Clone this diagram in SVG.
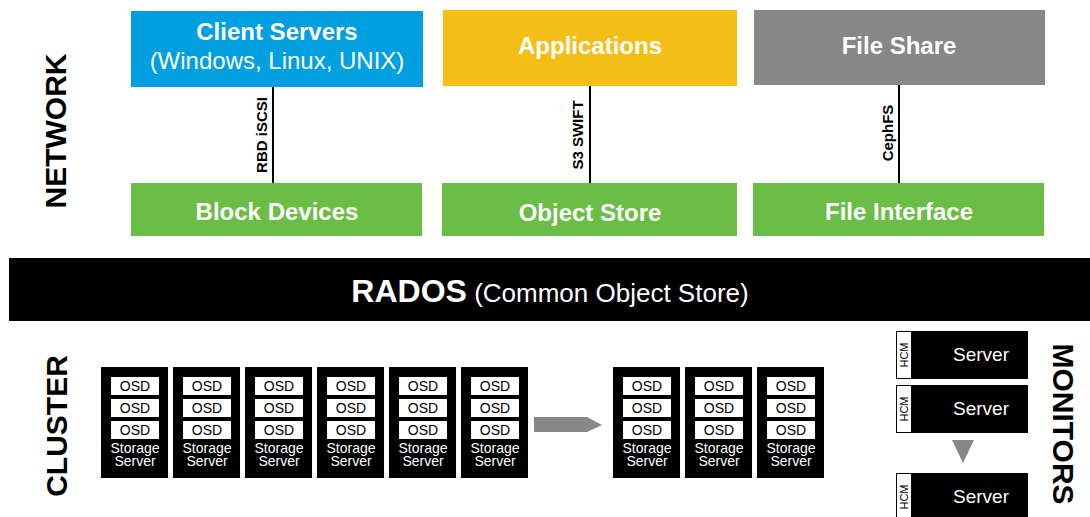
<svg xmlns="http://www.w3.org/2000/svg" width="1090" height="517" viewBox="0 0 1090 517">
<defs>
<style>
text{font-family:"Liberation Sans",Arial,sans-serif}
.top{font-size:24px;fill:#fff;text-anchor:middle}
.b{font-weight:bold}
.side{font-size:30px;font-weight:bold;fill:#000;text-anchor:middle}
.lbl{font-size:15px;font-weight:bold;fill:#000;text-anchor:middle}
.conn{stroke:#000;stroke-width:2;fill:none}
.srv{fill:#000}
.osd{fill:#fff}
.osdt{font-size:14px;fill:#000;text-anchor:middle}
.sst{font-size:14px;fill:#fff;text-anchor:middle}
.mon{fill:#000;stroke:#000;stroke-width:1}
.hcm{fill:#fff;stroke:#000;stroke-width:1}
.hcmt{font-size:11px;fill:#000;text-anchor:middle}
.mont{font-size:19px;fill:#fff;text-anchor:middle}
</style>
<g id="ss">
<rect class="srv" x="0" y="0" width="67" height="111"/>
<rect class="osd" x="10" y="10" width="48" height="18"/>
<text class="osdt" x="34" y="24">OSD</text>
<rect class="osd" x="10" y="32" width="48" height="18"/>
<text class="osdt" x="34" y="46">OSD</text>
<rect class="osd" x="10" y="54" width="48" height="18"/>
<text class="osdt" x="34" y="68">OSD</text>
<text class="sst" x="34" y="86">Storage</text>
<text class="sst" x="34" y="99">Server</text>
</g>
<g id="ms">
<rect class="mon" x="0.5" y="0.5" width="131" height="47"/>
<rect class="hcm" x="0.5" y="0.5" width="15" height="47"/>
<text class="hcmt" transform="translate(12,24) rotate(-90)">HCM</text>
<text class="mont" x="85" y="30">Server</text>
</g>
</defs>

<text id="network" class="side" transform="translate(66,131) rotate(-90)">NETWORK</text>
<text id="cluster" class="side" transform="translate(67,426) rotate(-90)">CLUSTER</text>
<text id="monitors" class="side" transform="translate(1053,424) rotate(90)">MONITORS</text>

<g id="connectors">
<line class="conn" x1="273" y1="87" x2="273" y2="183"/>
<line class="conn" x1="590" y1="86" x2="590" y2="183"/>
<line class="conn" x1="899" y1="85" x2="899" y2="183"/>
<text class="lbl" transform="translate(267,135) rotate(-90)">RBD iSCSI</text>
<text class="lbl" transform="translate(583,135) rotate(-90)">S3 SWIFT</text>
<text class="lbl" transform="translate(893,133) rotate(-90)">CephFS</text>
</g>

<g id="client-servers">
<rect x="131" y="11" width="292" height="76" fill="#009FDF"/>
<text class="top b" x="277" y="40">Client Servers</text>
<text class="top" x="277" y="69">(Windows, Linux, UNIX)</text>
</g>
<g id="applications">
<rect x="443" y="10" width="294" height="76" fill="#F5BE17"/>
<text class="top b" x="590" y="54">Applications</text>
</g>
<g id="file-share">
<rect x="754" y="10" width="291" height="75" fill="#878787"/>
<text class="top b" x="899" y="54">File Share</text>
</g>
<g id="block-devices">
<rect x="131" y="183" width="291" height="53" fill="#6ABD45"/>
<text class="top b" x="277" y="220">Block Devices</text>
</g>
<g id="object-store">
<rect x="442" y="183" width="295" height="53" fill="#6ABD45"/>
<text class="top b" x="590" y="221">Object Store</text>
</g>
<g id="file-interface">
<rect x="753" y="183" width="291" height="53" fill="#6ABD45"/>
<text class="top b" x="899" y="220">File Interface</text>
</g>

<g id="rados">
<rect x="9" y="258" width="1081" height="63" fill="#000"/>
<text x="550" y="302" fill="#fff" text-anchor="middle"><tspan font-weight="bold" font-size="32">RADOS</tspan><tspan font-size="26"> (Common Object Store)</tspan></text>
</g>

<g id="storage-servers">
<use href="#ss" x="101" y="367"/>
<use href="#ss" x="173" y="367"/>
<use href="#ss" x="245" y="367"/>
<use href="#ss" x="317" y="367"/>
<use href="#ss" x="389" y="367"/>
<use href="#ss" x="461" y="367"/>
<use href="#ss" x="613" y="367"/>
<use href="#ss" x="685" y="367"/>
<use href="#ss" x="757" y="367"/>
</g>
<polygon id="expand-arrow" points="534,417 587,417 602,425 587,432 534,432" fill="#888"/>

<g id="monitor-servers">
<use href="#ms" x="896" y="331"/>
<use href="#ms" x="896" y="385"/>
<use href="#ms" x="896" y="473"/>
</g>
<polygon id="more-arrow" points="952,440 974,440 963,463" fill="#888"/>
</svg>
